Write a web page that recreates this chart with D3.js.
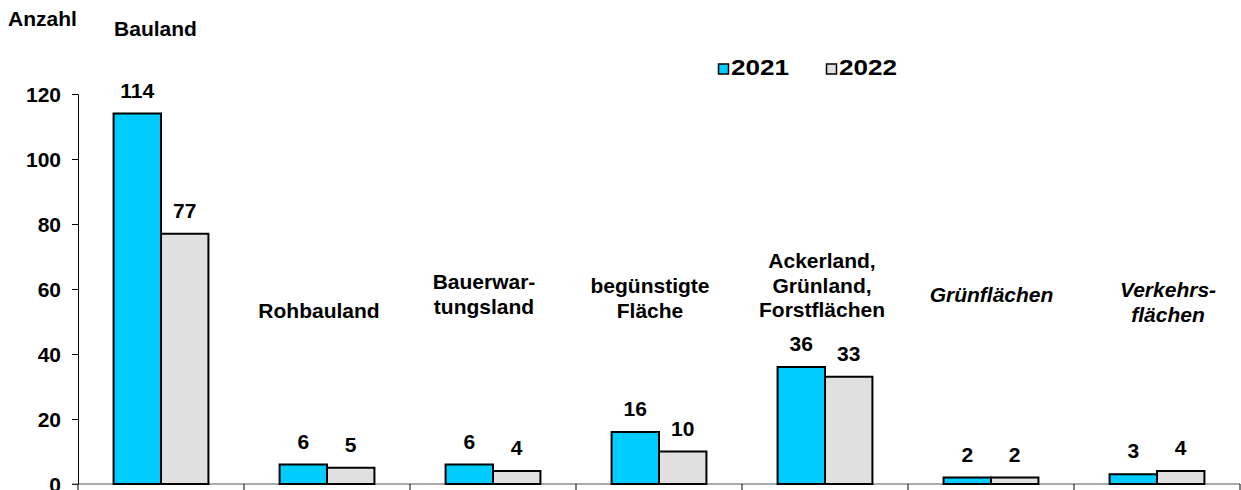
<!DOCTYPE html>
<html>
<head>
<meta charset="utf-8">
<script src="https://cdn.jsdelivr.net/npm/d3@7"></script>
<style>
  html, body { margin: 0; padding: 0; background: #fff; }
  svg { display: block; }
  text { font-family: "Liberation Sans", Arial, sans-serif; font-weight: bold; fill: #000; }
</style>
</head>
<body>
<svg id="chart" width="1241" height="490"></svg>
<script>
// ---- data ----
const categories = ["Bauland", "Rohbauland", "Bauerwartungsland", "begünstigte Fläche",
                    "Ackerland, Grünland, Forstflächen", "Grünflächen", "Verkehrsflächen"];
const categoryLabelLines = [["Bauland"], ["Rohbauland"], ["Bauerwar-", "tungsland"],
                            ["begünstigte", "Fläche"], ["Ackerland,", "Grünland,", "Forstflächen"],
                            ["Grünflächen"], ["Verkehrs-", "flächen"]];
const categoryItalic = [false, false, false, false, false, true, true];
const seriesNames = ["2021", "2022"];
const values2021 = [114, 6, 6, 16, 36, 2, 3];
const values2022 = [77, 5, 4, 10, 33, 2, 4];
const yTicks = [0, 20, 40, 60, 80, 100, 120];
const yTitle = "Anzahl";

// ---- layout (not data) ----
const labelBaseline = [36, 318, 289, 293, 268, 302, 297];   // first-line baseline
const labelDx = [-5.5, -8, -9, -9, -3, 0.5, 11];
const lineGap = 24.5;
const colors = { "2021": "#00CCFF", "2022": "#E0E0E0" };

const svg = d3.select("#chart");
const mLeft = 78, mRight = 1240, mTop = 94, mBottom = 484;

const x0 = d3.scaleBand().domain(categories).range([mLeft, mRight]).paddingInner(0).paddingOuter(0);
const x1 = d3.scaleBand().domain(seriesNames).range([0, x0.bandwidth()]).paddingInner(0).paddingOuter(0.75);
const y = d3.scaleLinear().domain([0, 120]).range([mBottom, mTop]);

const rows = categories.map((c, i) => ({ cat: c, i, vals: [
  { s: "2021", v: values2021[i] }, { s: "2022", v: values2022[i] } ] }));

// y axis
const yAxis = svg.append("g").attr("transform", `translate(${mLeft},0)`)
  .call(d3.axisLeft(y).tickValues(yTicks).tickSize(6).tickPadding(11).tickSizeOuter(0));
yAxis.select(".domain").attr("stroke", "#000").attr("stroke-width", 1);
yAxis.selectAll(".tick line").attr("stroke", "#000");
yAxis.selectAll(".tick text").style("font-size", "21px").attr("dy", "0.35em")
  .style("font-family", '"Liberation Sans", Arial, sans-serif').style("font-weight", "bold");

// x axis
const xAxisG = svg.append("g").attr("transform", `translate(0,${mBottom})`);
xAxisG.append("line").attr("x1", mLeft - 6).attr("x2", mRight).attr("y1", 0).attr("y2", 0)
  .attr("stroke", "#555").attr("stroke-width", 1.2);
const boundaries = categories.map(c => x0(c)).concat([x0(categories[categories.length - 1]) + x0.bandwidth()]);
xAxisG.selectAll("line.tk").data(boundaries).join("line").attr("class", "tk")
  .attr("x1", d => d).attr("x2", d => d).attr("y1", 0).attr("y2", 8)
  .attr("stroke", "#000").attr("stroke-width", 1);

// bars
const g = svg.append("g");
const groups = g.selectAll("g.cat").data(rows).join("g")
  .attr("transform", d => `translate(${x0(d.cat)},0)`);
groups.selectAll("rect").data(d => d.vals).join("rect")
  .attr("x", d => x1(d.s))
  .attr("width", x1.bandwidth())
  .attr("y", d => y(d.v))
  .attr("height", d => y(0) - y(d.v))
  .attr("fill", d => colors[d.s])
  .attr("stroke", "#000")
  .attr("stroke-width", 2);

// value labels
groups.selectAll("text.val").data(d => d.vals).join("text")
  .attr("class", "val")
  .attr("x", d => x1(d.s) + x1.bandwidth() / 2)
  .attr("y", d => y(d.v) - 16)
  .attr("text-anchor", "middle")
  .style("font-size", "21px")
  .text(d => d.v);

// category labels
rows.forEach((d, i) => {
  const t = svg.append("text")
    .attr("text-anchor", "middle")
    .style("font-size", "21px")
    .style("font-style", categoryItalic[i] ? "italic" : "normal");
  categoryLabelLines[i].forEach((line, k) => {
    t.append("tspan")
      .attr("x", x0(d.cat) + x0.bandwidth() / 2 + labelDx[i])
      .attr("y", labelBaseline[i] + k * lineGap)
      .text(line);
  });
});

// y title
svg.append("text").attr("x", 8).attr("y", 26).style("font-size", "21px").text(yTitle);

// legend
const legendX = [718, 826];
seriesNames.forEach((s, i) => {
  svg.append("rect").attr("x", legendX[i] + 0.5).attr("y", 64).attr("width", 10).attr("height", 10)
    .attr("fill", colors[s]).attr("stroke", "#000").attr("stroke-width", 1.5);
  svg.append("text").attr("x", legendX[i] + 13).attr("y", 75)
    .style("font-size", "22px")
    .attr("textLength", 58).attr("lengthAdjust", "spacingAndGlyphs")
    .text(s);
});
</script>
</body>
</html>
